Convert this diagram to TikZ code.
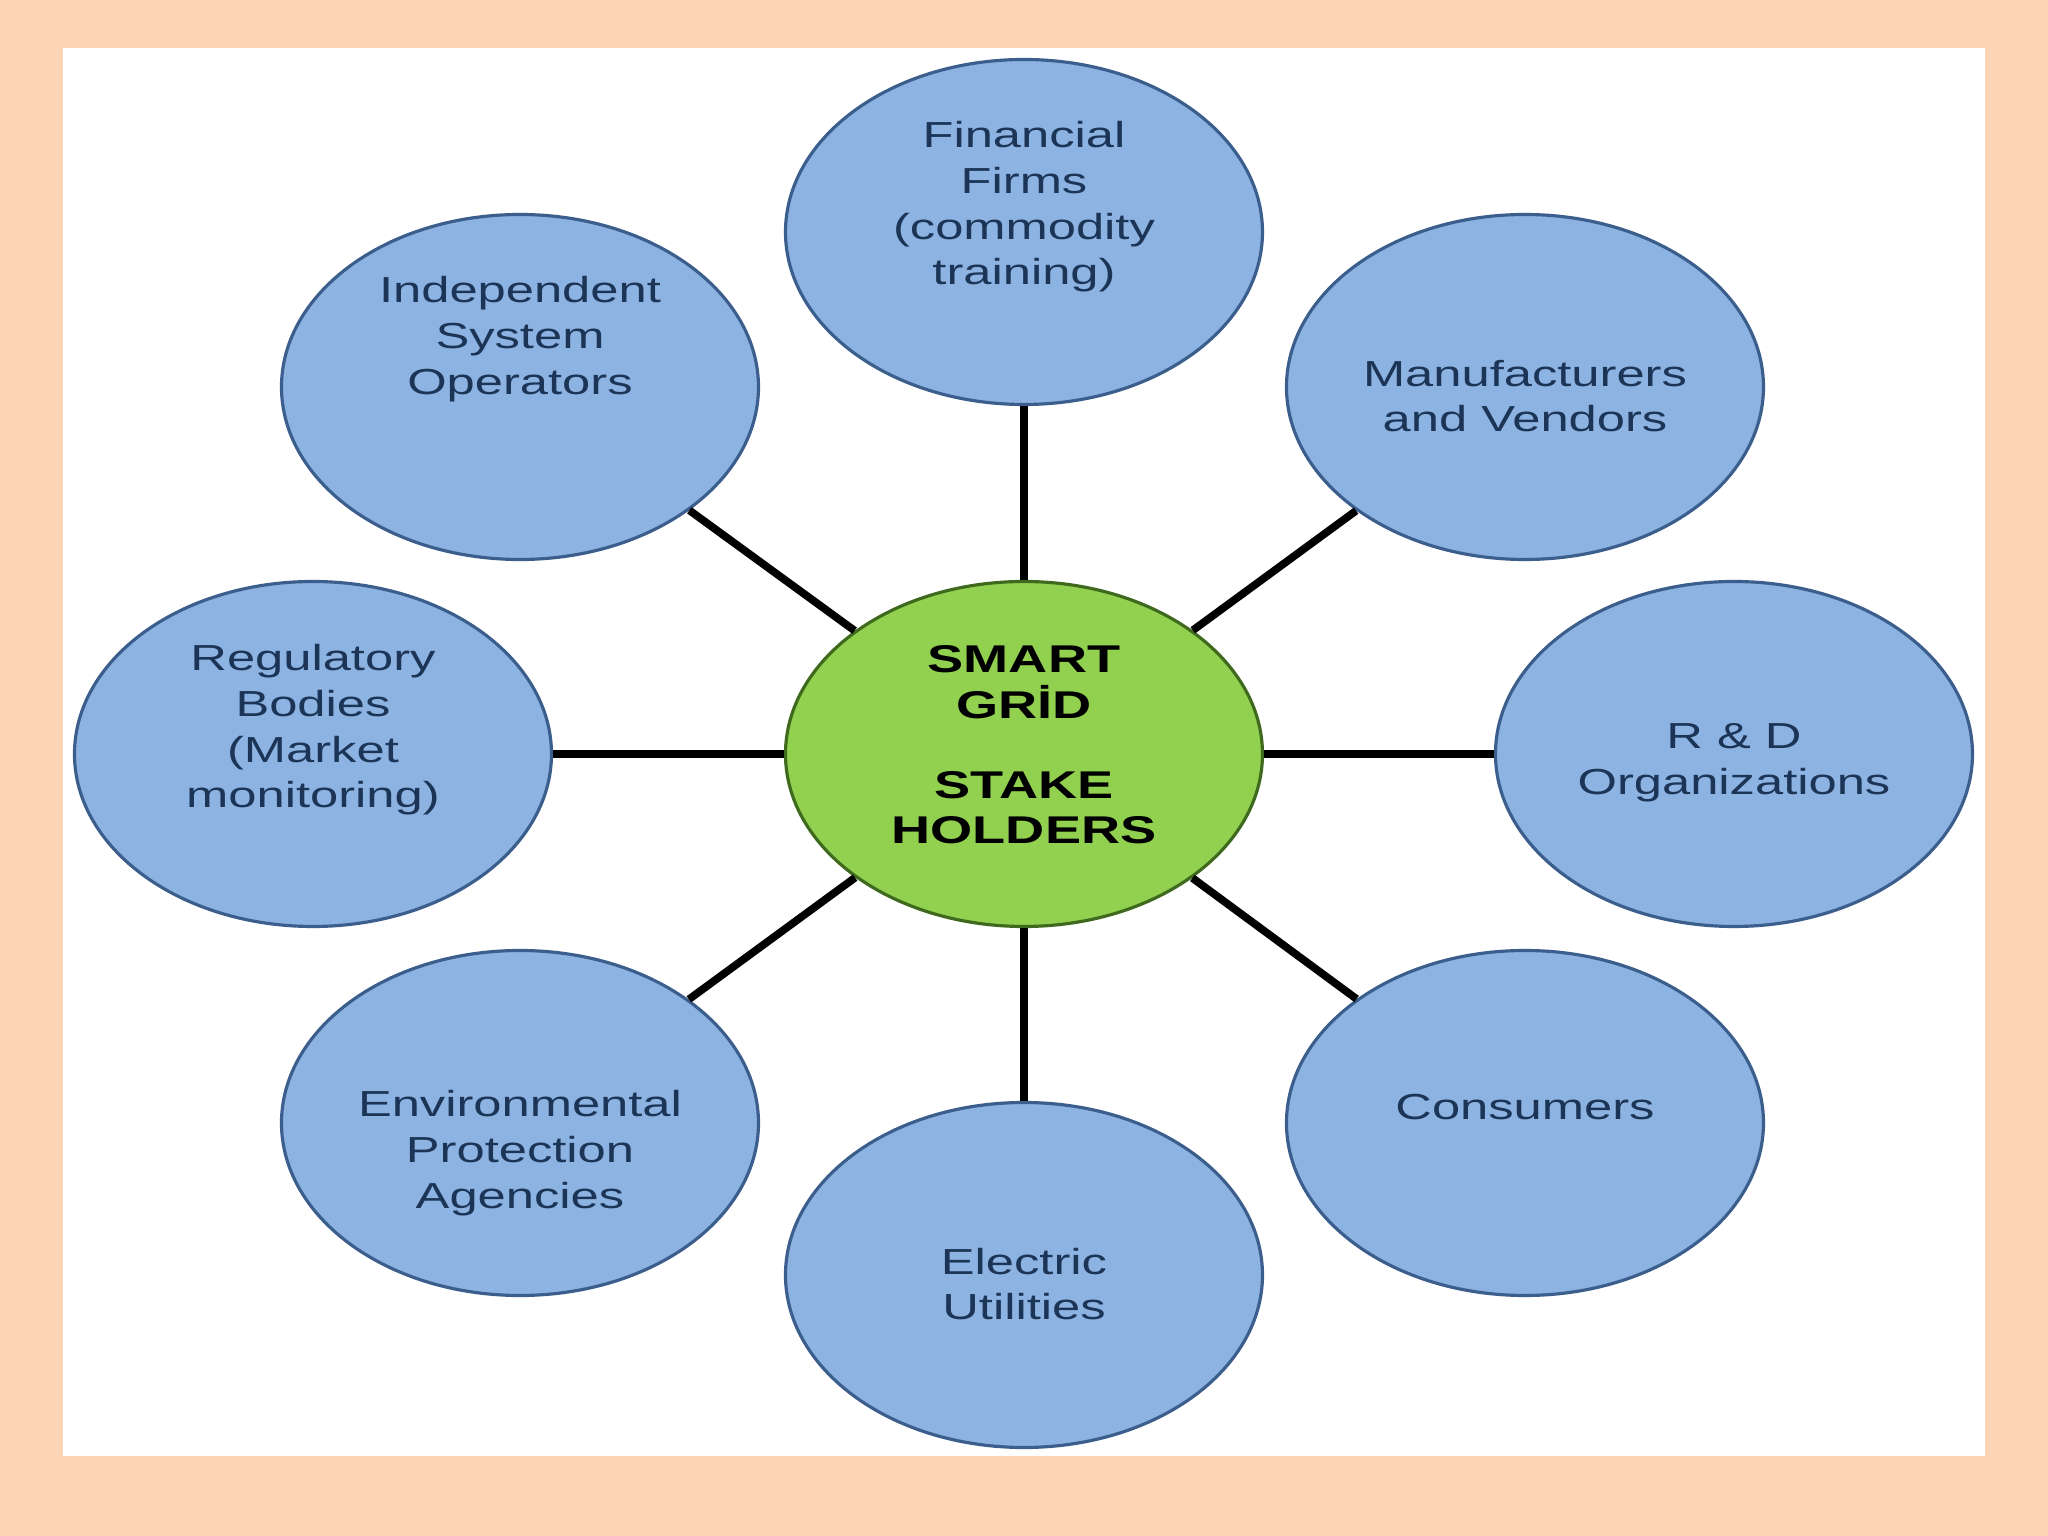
\documentclass[tikz,border=0pt]{standalone}
\usepackage{fontspec}
\usetikzlibrary{shapes.geometric}
\newfontfamily\stakefont{Liberation Sans}[FakeStretch=1.4]

\definecolor{peach}{HTML}{FBD5B5}
\definecolor{bubblefill}{HTML}{8DB3E2}
\definecolor{bubbleline}{HTML}{3B5E8C}
\definecolor{bubbletext}{HTML}{1C3557}
\definecolor{hubfill}{HTML}{92D050}
\definecolor{hubline}{HTML}{3F6A1E}

\tikzset{
	bubble/.style={ellipse, draw=bubbleline, line width=0.9pt, fill=bubblefill,
		minimum width=4.77cm, minimum height=3.45cm, inner sep=0pt},
	hub/.style={bubble, draw=hubline, fill=hubfill},
	bubblelabel/.style={align=center, text=bubbletext, inner sep=0pt,
		font=\stakefont\fontsize{10.3}{13}\selectfont},
	hublabel/.style={align=center, text=black, inner sep=0pt,
		font=\stakefont\bfseries\fontsize{11}{13}\selectfont},
	spoke/.style={line width=2.2pt, black}
}

\begin{document}
\begin{tikzpicture}
\fill[peach] (-10.24,-7.82) rectangle (10.24,7.54);
\fill[white] (-9.61,-7.02) rectangle (9.61,7.06);

\node[hub]    (hub) at (0,0) {};
\node[bubble] (fin) at (0,5.22) {};
\node[bubble] (man) at (5.01,3.67) {};
\node[bubble] (rd)  at (7.10,0) {};
\node[bubble] (con) at (5.01,-3.69) {};
\node[bubble] (ele) at (0,-5.21) {};
\node[bubble] (env) at (-5.04,-3.69) {};
\node[bubble] (reg) at (-7.11,0) {};
\node[bubble] (ind) at (-5.04,3.67) {};

\foreach \n in {fin,man,rd,con,ele,env,reg,ind}
	\draw[spoke] (hub) -- (\n);

\node[hublabel] (hub-t) at ([yshift=0.9mm]hub.center)
	{SMART\\GRİD\\[9.6pt]STAKE\\HOLDERS};
\node[bubblelabel] (fin-t) at ([yshift=2.5mm]fin.center)
	{Financial\\Firms\\(commodity\\training)};
\node[bubblelabel] (man-t) at ([yshift=-0.9mm]man.center)
	{Manufacturers\\and Vendors};
\node[bubblelabel] (rd-t) at ([yshift=-0.9mm]rd.center)
	{R \& D\\Organizations};
\node[bubblelabel] (con-t) at ([yshift=1.6mm]con.center)
	{Consumers};
\node[bubblelabel] (ele-t) at ([yshift=-0.9mm]ele.center)
	{Electric\\Utilities};
\node[bubblelabel] (env-t) at ([yshift=-3mm]env.center)
	{Environmental\\Protection\\Agencies};
\node[bubblelabel] (reg-t) at ([yshift=2.4mm]reg.center)
	{Regulatory\\Bodies\\(Market\\monitoring)};
\node[bubblelabel] (ind-t) at ([yshift=4.8mm]ind.center)
	{Independent\\System\\Operators};
\end{tikzpicture}
\end{document}
